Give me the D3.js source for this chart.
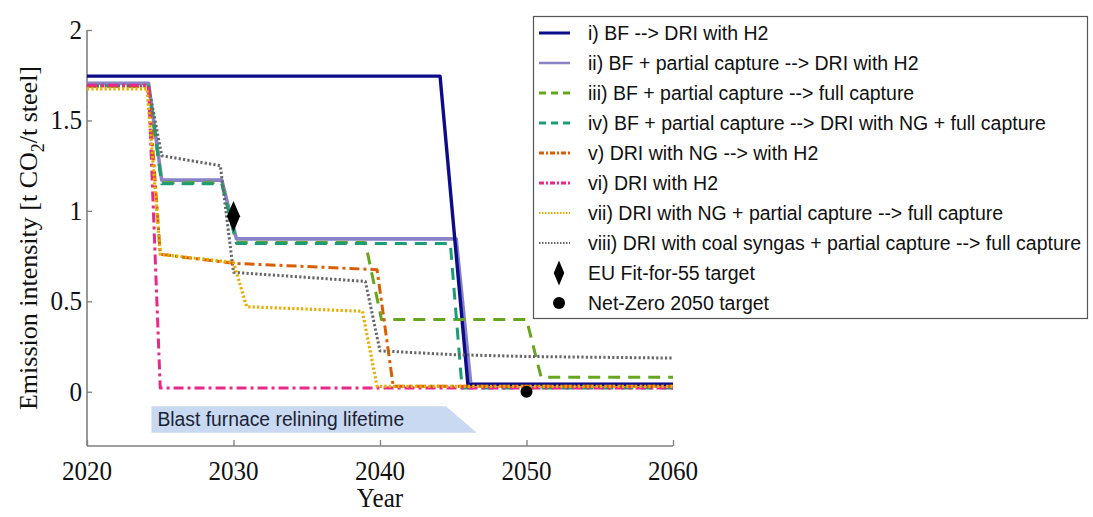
<!DOCTYPE html>
<html>
<head>
<meta charset="utf-8">
<script src="https://cdn.jsdelivr.net/npm/d3@7"></script>
<style>
  html, body { margin: 0; padding: 0; background: #fff; }
  svg { display: block; }
</style>
</head>
<body>
<svg id="chart" width="1093" height="517"></svg>
<script>
// ---- data -------------------------------------------------------------
const xTicks = [2020, 2030, 2040, 2050, 2060];
const yTicks = [0, 0.5, 1, 1.5, 2];

const seriesNames = [
  "i) BF --> DRI with H2",
  "ii) BF + partial capture --> DRI with H2",
  "iii) BF + partial capture --> full capture",
  "iv) BF + partial capture --> DRI with NG + full capture",
  "v) DRI with NG --> with H2",
  "vi) DRI with H2",
  "vii) DRI with NG + partial capture --> full capture",
  "viii) DRI with coal syngas + partial capture --> full capture"
];

// pathway trajectories: [year, t CO2 / t steel]
const pathI    = [[2020, 1.745], [2044.1, 1.745], [2046.0, 0.04], [2060, 0.04]];
const pathII   = [[2020, 1.705], [2024.2, 1.705], [2025.1, 1.17], [2029.2, 1.17], [2030.2, 0.845], [2045.2, 0.845], [2046.2, 0.042], [2060, 0.042]];
const pathIII  = [[2020, 1.69], [2024.2, 1.69], [2025.1, 1.155], [2029.2, 1.155], [2030.2, 0.825], [2039.0, 0.825], [2040.1, 0.40], [2050.0, 0.40], [2051.0, 0.08], [2060, 0.08]];
const pathIV   = [[2020, 1.69], [2024.2, 1.69], [2025.1, 1.15], [2029.2, 1.15], [2030.2, 0.82], [2044.8, 0.82], [2045.6, 0.02], [2060, 0.02]];
const pathV    = [[2020, 1.69], [2024.2, 1.69], [2025.0, 0.76], [2030.0, 0.71], [2039.8, 0.675], [2040.9, 0.03], [2060, 0.03]];
const pathVI   = [[2020, 1.695], [2024.2, 1.695], [2025.0, 0.02], [2060, 0.02]];
const pathVII  = [[2020, 1.675], [2024.1, 1.675], [2025.0, 0.76], [2030.0, 0.715], [2030.9, 0.47], [2038.8, 0.445], [2039.8, 0.03], [2060, 0.03]];
const pathVIII = [[2020, 1.69], [2024.2, 1.69], [2025.1, 1.305], [2029.1, 1.25], [2030.0, 0.66], [2039.0, 0.61], [2040.0, 0.226], [2045, 0.205], [2050, 0.195], [2060, 0.186]];

const targetFit55 = [2030, 0.97];
const targetNetZero = [2050, 0.0];

// blast furnace relining window (year, value) polygon
const reliningYears  = [2024.4, 2044.5, 2046.6, 2024.4];
const reliningValues = [-0.08, -0.08, -0.227, -0.227];

// ---- layout -----------------------------------------------------------
const svg = d3.select("#chart");
const x = d3.scaleLinear().domain([2020, 2060]).range([87, 673]);
const y = d3.scaleLinear().domain([-0.3, 2]).range([446, 30]);

const serif = "'Liberation Serif', 'Times New Roman', serif";
const sans = "'Liberation Sans', Arial, sans-serif";
const axisGray = "#7f7f7f";

// horizontally condensed text helper
function condText(g, tx, ty, str, size, family, anchor, sx, color) {
  return g.append("text")
    .attr("transform", `translate(${tx},${ty}) scale(${sx},1)`)
    .attr("text-anchor", anchor)
    .attr("font-family", family)
    .attr("font-size", size)
    .attr("fill", color || "#111")
    .text(str);
}

// ---- relining window --------------------------------------------------
const relPts = reliningYears.map((yr, i) => [x(yr), y(reliningValues[i])]);
svg.append("polygon")
  .attr("points", relPts.map(p => p.join(",")).join(" "))
  .attr("fill", "#c8d9f1");
condText(svg, x(2024.4) + 6, y(-0.153) + 7, "Blast furnace relining lifetime", 21, sans, "start", 0.92, "#1b2233");

// ---- axes -------------------------------------------------------------
const xAxis = d3.axisBottom(x).tickValues(xTicks).tickSize(-6).tickFormat("");
const gx = svg.append("g").attr("transform", `translate(0,${y(-0.3)})`).call(xAxis);
const yAxis = d3.axisLeft(y).tickValues(yTicks).tickSize(-5).tickFormat("");
const gy = svg.append("g").attr("transform", `translate(${x(2020)},0)`).call(yAxis);
[gx, gy].forEach(g => {
  g.select(".domain").attr("stroke", axisGray).attr("stroke-width", 1.6);
  g.selectAll(".tick line").attr("stroke", axisGray).attr("stroke-width", 1.3);
});
gx.select(".domain").attr("d", `M${x(2020)},0H${x(2060)}`);
gy.select(".domain").attr("d", `M0,${y(2)}V${y(-0.3)}`);

xTicks.forEach(t => condText(svg, x(t), 480, String(t), 27, serif, "middle", 0.93));
yTicks.forEach(t => condText(svg, 82, y(t) + 9, String(t), 27, serif, "end", 0.93));

condText(svg, 380, 507, "Year", 27, serif, "middle", 0.93);

// y axis title with subscript
const yTitle = svg.append("text")
  .attr("transform", `translate(37,238) rotate(-90)`)
  .attr("text-anchor", "middle")
  .attr("font-family", serif)
  .attr("font-size", 26)
  .attr("fill", "#111");
yTitle.append("tspan").text("Emission intensity [t CO");
yTitle.append("tspan").attr("font-size", 18).attr("dy", 7).text("2");
yTitle.append("tspan").attr("dy", -7).text("/t steel]");

// ---- series -----------------------------------------------------------
const styles = [
  { data: pathI,    color: "#0c0c8a", width: 3.4, dash: null },
  { data: pathII,   color: "#8783c6", width: 3.6, dash: null },
  { data: pathIII,  color: "#66a61e", width: 3,   dash: "12,8" },
  { data: pathIV,   color: "#1b9e77", width: 3,   dash: "12,8" },
  { data: pathV,    color: "#d95f02", width: 3,   dash: "10,4,3,4" },
  { data: pathVI,   color: "#e7298a", width: 3,   dash: "10,4,3,4" },
  { data: pathVII,  color: "#eaad00", width: 3.2, dash: "2.2,2.2" },
  { data: pathVIII, color: "#666666", width: 3.0, dash: "2.2,2.2" }
];

const line = d3.line().x(d => x(d[0])).y(d => y(d[1]));
const drawOrder = [1, 0, 2, 3, 7, 4, 5, 6];
drawOrder.forEach(i => {
  const s = styles[i];
  svg.append("path")
    .datum(s.data)
    .attr("d", line)
    .attr("fill", "none")
    .attr("stroke", s.color)
    .attr("stroke-width", s.width)
    .attr("stroke-dasharray", s.dash)
    .attr("stroke-linejoin", "round");
});

// target markers
const diamond = d3.symbol().type(d3.symbolDiamond).size(150);
svg.append("path")
  .attr("d", diamond())
  .attr("transform", `translate(${x(targetFit55[0])},${y(targetFit55[1])}) scale(1,1.35)`)
  .attr("fill", "#000");
svg.append("circle")
  .attr("cx", x(targetNetZero[0])).attr("cy", y(targetNetZero[1]))
  .attr("r", 6).attr("fill", "#000");

// ---- legend -----------------------------------------------------------
const lg = svg.append("g");
lg.append("rect")
  .attr("x", 533.5).attr("y", 16.5).attr("width", 554).attr("height", 302)
  .attr("fill", "#fff").attr("stroke", "#555").attr("stroke-width", 1.2);

const legendDash = [null, null, "7,5", "7,5", "5,2,2,2", "5,2,2,2", "1.5,1.5", "1.5,1.5"];
const legendWidth = [3, 2.5, 3, 3, 3, 3, 2.2, 2.2];
seriesNames.forEach((name, i) => {
  const ry = 33 + i * 30;
  lg.append("line")
    .attr("x1", 539).attr("x2", 570).attr("y1", ry).attr("y2", ry)
    .attr("stroke", styles[i].color)
    .attr("stroke-width", legendWidth[i])
    .attr("stroke-dasharray", legendDash[i]);
  condText(lg, 588, ry + 7, name, 19.5, sans, "start", 1, "#111");
});
const ry9 = 33 + 8 * 30, ry10 = 33 + 9 * 30;
lg.append("path")
  .attr("d", diamond())
  .attr("transform", `translate(559,${ry9}) scale(0.8,1.1)`)
  .attr("fill", "#000");
condText(lg, 588, ry9 + 7, "EU Fit-for-55 target", 19.5, sans, "start", 1, "#111");
lg.append("circle").attr("cx", 559).attr("cy", ry10).attr("r", 6).attr("fill", "#000");
condText(lg, 588, ry10 + 7, "Net-Zero 2050 target", 19.5, sans, "start", 1, "#111");
</script>
</body>
</html>
